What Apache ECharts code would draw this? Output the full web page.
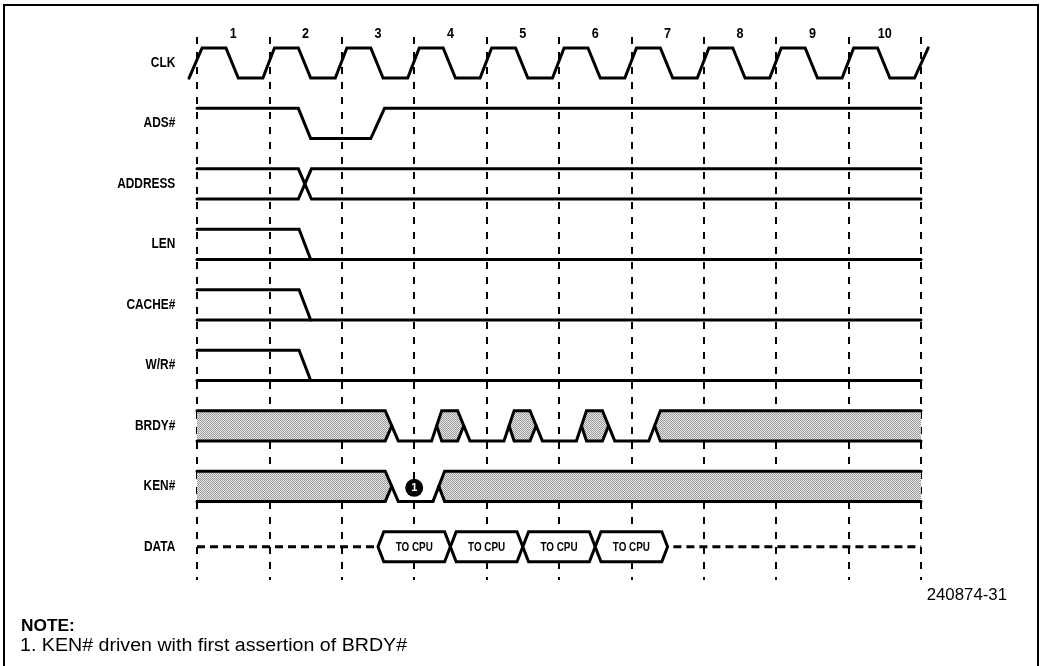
<!DOCTYPE html>
<html>
<head>
<meta charset="utf-8">
<script src="https://cdn.jsdelivr.net/npm/echarts@6/dist/echarts.min.js"></script>
<style>
html,body{margin:0;padding:0;background:#fff;}
#chart{width:1044px;height:666px;}
</style>
</head>
<body>
<div id="chart"></div>
<script>
// ---------------- DATA ----------------
const signalNames = ['CLK', 'ADS#', 'ADDRESS', 'LEN', 'CACHE#', 'W/R#', 'BRDY#', 'KEN#', 'DATA'];
const clockNumbers = ['1', '2', '3', '4', '5', '6', '7', '8', '9', '10'];
const clockPositions = [0.5, 1.5, 2.5, 3.5, 4.5, 5.5, 6.5, 7.5, 8.5, 9.5];

// waveform vertices: [time in clocks, level (1 = high, 0 = low, 0.5 = float)]
const clkWave = [[-0.11,0],[0.07,1],[0.4,1],[0.57,0],[0.91,0],[1.07,1],[1.4,1],[1.57,0],[1.91,0],[2.07,1],[2.4,1],[2.57,0],[2.91,0],[3.07,1],[3.4,1],[3.57,0],[3.91,0],[4.07,1],[4.4,1],[4.57,0],[4.91,0],[5.07,1],[5.4,1],[5.57,0],[5.91,0],[6.07,1],[6.4,1],[6.57,0],[6.91,0],[7.07,1],[7.4,1],[7.57,0],[7.91,0],[8.07,1],[8.4,1],[8.57,0],[8.91,0],[9.07,1],[9.4,1],[9.57,0],[9.91,0],[10.1,1]];
const adsWave = [[0,1],[1.4,1],[1.57,0],[2.4,0],[2.59,1],[10,1]];
const addrUpper = [[0,1],[1.4,1],[1.58,0],[10,0]];
const addrLower = [[0,0],[1.4,0],[1.58,1],[10,1]];
const lenWave = [[0,1],[1.41,1],[1.57,0]];
const lenLow = [[0,0],[10,0]];
const cacheWave = [[0,1],[1.41,1],[1.57,0]];
const cacheLow = [[0,0],[10,0]];
const wrWave = [[0,1],[1.41,1],[1.57,0]];
const wrLow = [[0,0],[10,0]];
const brdyOuter = [[0,1],[2.6,1],[2.78,0],[3.24,0],[3.38,1],[3.6,1],[3.77,0],[4.24,0],[4.38,1],[4.6,1],[4.77,0],[5.24,0],[5.38,1],[5.6,1],[5.77,0],[6.24,0],[6.4,1],[10,1]];
const brdyInner1 = [[0,0],[2.6,0],[2.69,0.5]];
const brdyInner2 = [[3.31,0.5],[3.38,0],[3.6,0],[3.685,0.5]];
const brdyInner3 = [[4.31,0.5],[4.38,0],[4.6,0],[4.685,0.5]];
const brdyInner4 = [[5.31,0.5],[5.38,0],[5.6,0],[5.685,0.5]];
const brdyInner5 = [[6.32,0.5],[6.4,0],[10,0]];
const brdyShade1 = [[0,1],[2.6,1],[2.69,0.5],[2.6,0],[0,0]];
const brdyShade2 = [[3.31,0.5],[3.38,1],[3.6,1],[3.685,0.5],[3.6,0],[3.38,0]];
const brdyShade3 = [[4.31,0.5],[4.38,1],[4.6,1],[4.685,0.5],[4.6,0],[4.38,0]];
const brdyShade4 = [[5.31,0.5],[5.38,1],[5.6,1],[5.685,0.5],[5.6,0],[5.38,0]];
const brdyShade5 = [[6.32,0.5],[6.4,1],[10,1],[10,0],[6.4,0]];
const kenOuter = [[0,1],[2.6,1],[2.78,0],[3.26,0],[3.42,1],[10,1]];
const kenInner1 = [[0,0],[2.6,0],[2.69,0.5]];
const kenInner2 = [[3.34,0.5],[3.42,0],[10,0]];
const kenShade1 = [[0,1],[2.6,1],[2.69,0.5],[2.6,0],[0,0]];
const kenShade2 = [[3.34,0.5],[3.42,1],[10,1],[10,0],[3.42,0]];
const dataFloatLeft = [[0,0.5],[2.46,0.5]];
const dataFloatRight = [[6.58,0.5],[10,0.5]];
const dataWindows = [[2.5,3.5],[3.5,4.5],[4.5,5.5],[5.5,6.5]];
const dataLabels = ['TO CPU', 'TO CPU', 'TO CPU', 'TO CPU'];
const noteMarker = [3.0, 0.45];   // on KEN# row
const noteMarkerText = '1';
const figureId = '240874-31';
const noteTitle = 'NOTE:';
const noteText = '1. KEN# driven with first assertion of BRDY#';

// ---------------- BUILD ----------------
const ROW = {CLK:0, ADS:1, ADDR:2, LEN:3, CACHE:4, WR:5, BRDY:6, KEN:7, DATA:8};
const wavePaths = [
  {row: ROW.CLK, pts: clkWave},
  {row: ROW.ADS, pts: adsWave},
  {row: ROW.ADDR, pts: addrUpper},
  {row: ROW.ADDR, pts: addrLower},
  {row: ROW.LEN, pts: lenWave},
  {row: ROW.LEN, pts: lenLow},
  {row: ROW.CACHE, pts: cacheWave},
  {row: ROW.CACHE, pts: cacheLow},
  {row: ROW.WR, pts: wrWave},
  {row: ROW.WR, pts: wrLow},
  {row: ROW.BRDY, pts: brdyOuter},
  {row: ROW.BRDY, pts: brdyInner1},
  {row: ROW.BRDY, pts: brdyInner2},
  {row: ROW.BRDY, pts: brdyInner3},
  {row: ROW.BRDY, pts: brdyInner4},
  {row: ROW.BRDY, pts: brdyInner5},
  {row: ROW.KEN, pts: kenOuter},
  {row: ROW.KEN, pts: kenInner1},
  {row: ROW.KEN, pts: kenInner2}
];
const shadePaths = [
  {row: ROW.BRDY, pts: brdyShade1},
  {row: ROW.BRDY, pts: brdyShade2},
  {row: ROW.BRDY, pts: brdyShade3},
  {row: ROW.BRDY, pts: brdyShade4},
  {row: ROW.BRDY, pts: brdyShade5},
  {row: ROW.KEN, pts: kenShade1},
  {row: ROW.KEN, pts: kenShade2}
];
const floatPaths = [
  {row: ROW.DATA, pts: dataFloatLeft},
  {row: ROW.DATA, pts: dataFloatRight}
];

function yOf(row, lvl) { return row + (1 - lvl) * 0.5; }
function mapPts(api, row, pts) { return pts.map(p => api.coord([p[0], yOf(row, p[1])])); }

// stipple pattern for "don't care" shading
const pat = document.createElement('canvas');
pat.width = 2; pat.height = 2;
(function(){
  const c = pat.getContext('2d');
  c.fillStyle = '#e8e8e8'; c.fillRect(0,0,2,2);
  c.fillStyle = '#9a9a9a'; c.fillRect(0,0,1,1); c.fillRect(1,1,1,1);
})();
const shadeFill = {image: pat, repeat: 'repeat'};

const FONT = '"Liberation Sans", Arial, sans-serif';
const SLOPE = 0.08;

const chart = echarts.init(document.getElementById('chart'), null, {renderer: 'canvas'});
const option = {
  backgroundColor: '#ffffff',
  animation: false,
  grid: {left: 197, width: 724, top: 37, height: 543},
  xAxis: {
    type: 'value', min: 0, max: 10, interval: 1,
    axisLine: {show: false}, axisTick: {show: false}, axisLabel: {show: false},
    splitLine: {show: true, lineStyle: {color: '#000', width: 2, type: [7, 8]}}
  },
  yAxis: {
    type: 'value', min: -0.18, max: 8.8, inverse: true,
    axisLine: {show: false}, axisTick: {show: false}, axisLabel: {show: false}, splitLine: {show: false}
  },
  graphic: [
    {type: 'rect', shape: {x: 4, y: 5, width: 1034, height: 700}, style: {fill: null, stroke: '#000', lineWidth: 2}, silent: true},
    {type: 'text', x: 1007, y: 596, scaleX: 1.05, style: {text: figureId, fill: '#000', font: '16px ' + FONT, align: 'right', verticalAlign: 'middle'}},
    {type: 'text', x: 21, y: 627, scaleX: 1.08, style: {text: noteTitle, fill: '#000', font: 'bold 16px ' + FONT, align: 'left', verticalAlign: 'middle'}},
    {type: 'text', x: 20, y: 646, scaleX: 1.09, style: {text: noteText, fill: '#000', font: '18px ' + FONT, align: 'left', verticalAlign: 'middle'}}
  ],
  series: [
    {
      name: 'shading', type: 'custom', clip: false, silent: true,
      data: shadePaths.map((s, i) => [i]),
      renderItem: (params, api) => {
        const s = shadePaths[params.dataIndex];
        return {type: 'polygon', shape: {points: mapPts(api, s.row, s.pts)}, style: {fill: shadeFill, stroke: null}};
      }
    },
    {
      name: 'waves', type: 'custom', clip: false, silent: true,
      data: wavePaths.map((s, i) => [i]),
      renderItem: (params, api) => {
        const s = wavePaths[params.dataIndex];
        return {type: 'polyline', shape: {points: mapPts(api, s.row, s.pts)},
          style: {fill: null, stroke: '#000', lineWidth: 3, lineJoin: 'miter', lineCap: 'round'}};
      }
    },
    {
      name: 'float', type: 'custom', clip: false, silent: true,
      data: floatPaths.map((s, i) => [i]),
      renderItem: (params, api) => {
        const s = floatPaths[params.dataIndex];
        return {type: 'polyline', shape: {points: mapPts(api, s.row, s.pts)},
          style: {fill: null, stroke: '#000', lineWidth: 3, lineDash: [8, 5]}};
      }
    },
    {
      name: 'bus', type: 'custom', clip: false, silent: true,
      data: dataWindows.map((w, i) => [w[0], w[1], i]),
      renderItem: (params, api) => {
        const s = api.value(0), e = api.value(1), i = api.value(2);
        const r = ROW.DATA;
        const pts = [[s,0.5],[s+SLOPE,1],[e-SLOPE,1],[e,0.5],[e-SLOPE,0],[s+SLOPE,0]];
        const c = api.coord([(s+e)/2, yOf(r, 0.5)]);
        return {type: 'group', children: [
          {type: 'polygon', shape: {points: mapPts(api, r, pts)},
            style: {fill: '#fff', stroke: '#000', lineWidth: 3, lineJoin: 'miter'}},
          {type: 'text', x: c[0], y: c[1] + 1, scaleX: 0.76,
            style: {text: dataLabels[i], fill: '#000', font: 'bold 13px ' + FONT, align: 'center', verticalAlign: 'middle'}}
        ]};
      }
    },
    {
      name: 'signalNames', type: 'custom', clip: false, silent: true,
      data: signalNames.map((n, i) => [i]),
      renderItem: (params, api) => {
        const i = params.dataIndex;
        const c = api.coord([-0.3, yOf(i, 0.5)]);
        return {type: 'text', x: c[0], y: c[1], scaleX: 0.82,
          style: {text: signalNames[i], fill: '#000', font: 'bold 14.5px ' + FONT, align: 'right', verticalAlign: 'middle'}};
      }
    },
    {
      name: 'clockNumbers', type: 'custom', clip: false, silent: true,
      data: clockPositions.map((t, i) => [t, i]),
      renderItem: (params, api) => {
        const c = api.coord([api.value(0), -0.23]);
        return {type: 'text', x: c[0], y: c[1], scaleX: 0.9,
          style: {text: clockNumbers[api.value(1)], fill: '#000', font: 'bold 14px ' + FONT, align: 'center', verticalAlign: 'middle'}};
      }
    },
    {
      name: 'noteMarker', type: 'custom', clip: false, silent: true,
      data: [noteMarker],
      renderItem: (params, api) => {
        const c = api.coord([api.value(0), yOf(ROW.KEN, api.value(1))]);
        return {type: 'group', children: [
          {type: 'circle', shape: {cx: c[0], cy: c[1], r: 9}, style: {fill: '#000'}},
          {type: 'text', x: c[0], y: c[1] + 0.5,
            style: {text: noteMarkerText, fill: '#fff', font: 'bold 11px ' + FONT, align: 'center', verticalAlign: 'middle'}}
        ]};
      }
    }
  ]
};
chart.setOption(option);
</script>
</body>
</html>
